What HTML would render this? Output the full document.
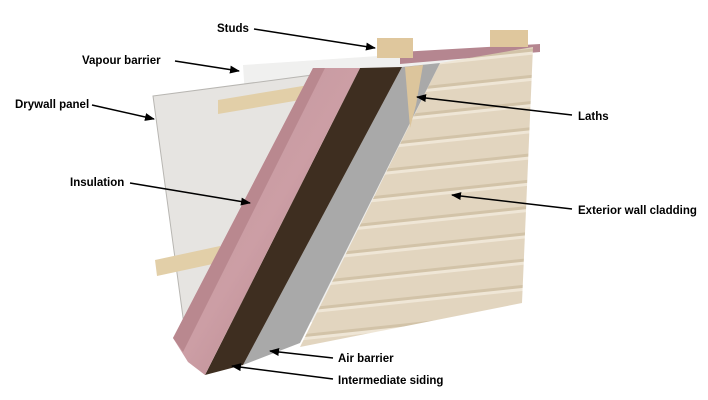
<!DOCTYPE html>
<html><head><meta charset="utf-8"><style>
html,body{margin:0;padding:0;background:#fff;width:708px;height:400px;overflow:hidden}
svg{display:block}
text{font-family:"Liberation Sans",Arial,sans-serif;font-weight:bold;font-size:11.5px;fill:#000}
</style></head><body>
<svg width="708" height="400" viewBox="0 0 708 400" xmlns="http://www.w3.org/2000/svg">
<defs>
<marker id="a" markerWidth="10" markerHeight="8" refX="9" refY="4" orient="auto" markerUnits="userSpaceOnUse">
<path d="M0,0 L10,4 L0,8 Z" fill="#000"/></marker>
<linearGradient id="pink" x1="0" y1="0" x2="1" y2="1">
<stop offset="0" stop-color="#c0959b"/><stop offset="0.5" stop-color="#cc9ea5"/><stop offset="1" stop-color="#b07e83"/></linearGradient>
<pattern id="sid" width="10" height="26" patternUnits="userSpaceOnUse" patternTransform="rotate(-6)">
<rect width="10" height="26" fill="#e2d5bf"/><rect y="0" width="10" height="3" fill="#d2c3a8"/><rect y="3" width="10" height="3" fill="#efe6d6"/></pattern>
</defs>
<!-- vapour barrier -->
<polygon points="243,65 528,46 520,290 260,330" fill="#f0f0ef"/>
<!-- drywall -->
<polygon points="153,96 320,74 250,330 185,332" fill="#e6e4e1" stroke="#b8b6b2" stroke-width="1"/>
<!-- battens -->
<polygon points="218,100 315,84 312,98 218,114" fill="#e2cfa8"/>
<polygon points="155,260 220,246 222,262 157,276" fill="#e2cfa8"/>
<!-- top band between studs -->
<polygon points="400,52 540,44 540,52 400,64" fill="#b58690"/>
<!-- cladding -->
<polygon points="440,63 533,47 522,303 300,347" fill="url(#sid)"/>
<!-- air barrier grey -->
<polygon points="402,67 440,63 300,343 243,365" fill="#a9a9a9"/>
<!-- dark intermediate siding -->
<polygon points="360,68 402,67 243,365 205,375" fill="#3e2e20"/>
<!-- insulation -->
<polygon points="313,68 360,68 205,375 188,362 173,338" fill="url(#pink)"/>
<polygon points="313,68 325,68 183,352 173,338" fill="#b9888f"/>
<!-- lath -->
<polygon points="405,67 423,65 416,105 410,128" fill="#dcc59c"/>
<!-- studs -->
<rect x="377" y="38" width="36" height="20" fill="#dfc79d"/>
<rect x="490" y="30" width="38" height="17" fill="#dfc79d"/>
<!-- labels -->
<text x="217" y="32">Studs</text>
<line x1="254" y1="29" x2="375" y2="48" stroke="#000" stroke-width="1.5" marker-end="url(#a)"/>
<text x="82" y="64">Vapour barrier</text>
<line x1="175" y1="61" x2="239" y2="71" stroke="#000" stroke-width="1.5" marker-end="url(#a)"/>
<text x="15" y="108">Drywall panel</text>
<line x1="92" y1="105" x2="154" y2="119" stroke="#000" stroke-width="1.5" marker-end="url(#a)"/>
<text x="70" y="186">Insulation</text>
<line x1="130" y1="183" x2="250" y2="203" stroke="#000" stroke-width="1.5" marker-end="url(#a)"/>
<text x="578" y="120">Laths</text>
<line x1="572" y1="115" x2="417" y2="97" stroke="#000" stroke-width="1.5" marker-end="url(#a)"/>
<text x="578" y="214">Exterior wall cladding</text>
<line x1="572" y1="209" x2="452" y2="195" stroke="#000" stroke-width="1.5" marker-end="url(#a)"/>
<text x="338" y="362">Air barrier</text>
<line x1="333" y1="358" x2="270" y2="351" stroke="#000" stroke-width="1.5" marker-end="url(#a)"/>
<text x="338" y="384">Intermediate siding</text>
<line x1="333" y1="379" x2="232" y2="366" stroke="#000" stroke-width="1.5" marker-end="url(#a)"/>
</svg>
</body></html>
